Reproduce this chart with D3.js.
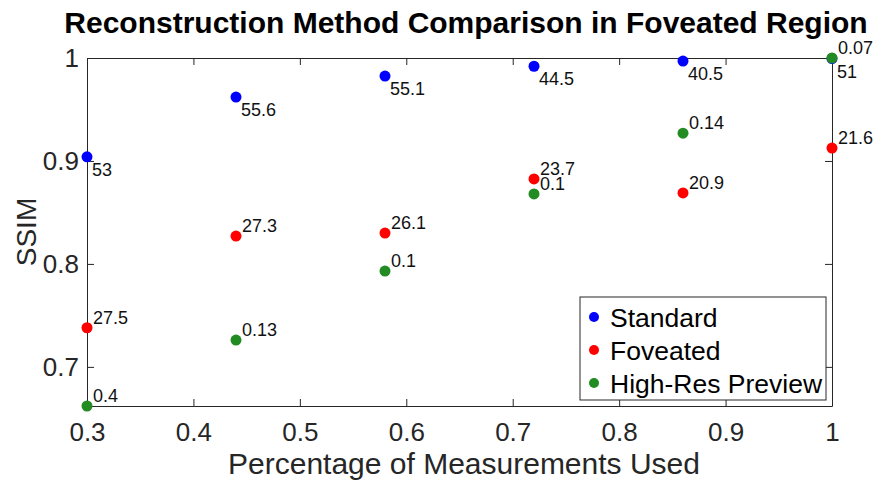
<!DOCTYPE html>
<html>
<head>
<meta charset="utf-8">
<script src="https://cdn.jsdelivr.net/npm/d3@7"></script>
<style>
  html, body { margin: 0; padding: 0; background: #fff; }
  svg { display: block; font-family: Arial, "Liberation Sans", sans-serif; }
</style>
</head>
<body>
<svg id="chart" width="878" height="484"></svg>
<script>
// Fraction of measurements used (x) for each reconstruction run
const fractions = [0.3, 0.44, 0.58, 0.72, 0.86, 1.0];

// SSIM in the foveated region for each method
const standardSSIM = [0.904, 0.962, 0.9825, 0.992, 0.997, 0.9995];
const foveatedSSIM = [0.738, 0.827, 0.830, 0.8825, 0.869, 0.9125];
const previewSSIM  = [0.662, 0.726, 0.793, 0.868, 0.927, 1.0];

// Annotation shown next to each point
const standardNotes = ["53", "55.6", "55.1", "44.5", "40.5", "51"];
const foveatedNotes = ["27.5", "27.3", "26.1", "23.7", "20.9", "21.6"];
const previewNotes  = ["0.4", "0.13", "0.1", "0.1", "0.14", "0.07"];

const seriesNames = ["Standard", "Foveated", "High-Res Preview"];
const xTicks = [0.3, 0.4, 0.5, 0.6, 0.7, 0.8, 0.9, 1];
const yTicks = [0.7, 0.8, 0.9, 1];

const series = [
  { name: seriesNames[0], values: standardSSIM, notes: standardNotes, color: "#0000ff", below: true },
  { name: seriesNames[1], values: foveatedSSIM, notes: foveatedNotes, color: "#ff0000", below: false },
  { name: seriesNames[2], values: previewSSIM,  notes: previewNotes,  color: "#228b22", below: false }
];

const svg = d3.select("#chart");
const margin = { left: 87, right: 46, top: 58, bottom: 78 };
const W = 878, H = 484;

const allY = standardSSIM.concat(foveatedSSIM, previewSSIM);
const x = d3.scaleLinear().domain([0.3, 1]).range([margin.left, W - margin.right]);
const y = d3.scaleLinear().domain([d3.min(allY), d3.max(allY)]).range([H - margin.bottom, margin.top]);

const axisColor = "#262626";
const tickLen = 7;

function styleAxis(g) {
  g.select(".domain").attr("stroke", axisColor).attr("stroke-width", 1);
  g.selectAll(".tick line").attr("stroke", axisColor);
  g.selectAll(".tick text").attr("fill", axisColor)
    .style("font-family", "Arial, 'Liberation Sans', sans-serif").style("font-size", "26px");
}

// Bottom axis with inward ticks
svg.append("g")
  .attr("transform", `translate(0,${y.range()[0]})`)
  .call(d3.axisBottom(x).tickValues(xTicks).tickSizeInner(-tickLen).tickSizeOuter(0).tickPadding(17)
        .tickFormat(d3.format("")))
  .call(styleAxis);

// Top axis: ticks only
svg.append("g")
  .attr("transform", `translate(0,${y.range()[1]})`)
  .call(d3.axisTop(x).tickValues(xTicks).tickSizeInner(-tickLen).tickSizeOuter(0).tickFormat(""))
  .call(styleAxis);

// Left axis with inward ticks
svg.append("g")
  .attr("transform", `translate(${x.range()[0]},0)`)
  .call(d3.axisLeft(y).tickValues(yTicks).tickSizeInner(-tickLen).tickSizeOuter(0).tickPadding(8)
        .tickFormat(d3.format("")))
  .call(styleAxis);

// Right axis: ticks only
svg.append("g")
  .attr("transform", `translate(${x.range()[1]},0)`)
  .call(d3.axisRight(y).tickValues(yTicks).tickSizeInner(-tickLen).tickSizeOuter(0).tickFormat(""))
  .call(styleAxis);

// Points and their annotations
series.forEach(s => {
  const g = svg.append("g");
  g.selectAll("circle").data(s.values).join("circle")
    .attr("cx", (d, i) => x(fractions[i]))
    .attr("cy", d => y(d))
    .attr("r", 5.5)
    .attr("fill", s.color);
  g.selectAll("text").data(s.values).join("text")
    .attr("x", (d, i) => x(fractions[i]) + (s.below ? 5 : 6))
    .attr("y", d => y(d) + (s.below ? 19 : -4))
    .attr("font-size", 18)
    .attr("fill", "#111")
    .text((d, i) => s.notes[i]);
});

// Legend
const lg = svg.append("g").attr("transform", "translate(580,297)");
lg.append("rect").attr("width", 246).attr("height", 103)
  .attr("fill", "#fff").attr("stroke", axisColor).attr("stroke-width", 1);
series.forEach((s, i) => {
  const cy = 20 + i * 33;
  lg.append("circle").attr("cx", 14).attr("cy", cy).attr("r", 5).attr("fill", s.color);
  lg.append("text").attr("x", 30).attr("y", cy + 10).attr("font-size", 26.5).attr("fill", "#000").text(s.name);
});

// Title and axis labels
svg.append("text").attr("x", 466).attr("y", 33).attr("text-anchor", "middle")
  .attr("font-size", 30).attr("font-weight", "bold").attr("fill", "#000")
  .text("Reconstruction Method Comparison in Foveated Region");

svg.append("text").attr("x", 464).attr("y", 474).attr("text-anchor", "middle")
  .attr("font-size", 30).attr("fill", axisColor).text("Percentage of Measurements Used");

svg.append("text").attr("transform", `translate(36,${(y.range()[0] + y.range()[1]) / 2}) rotate(-90)`)
  .attr("text-anchor", "middle").attr("font-size", 28).attr("fill", axisColor).text("SSIM");
</script>
</body>
</html>
